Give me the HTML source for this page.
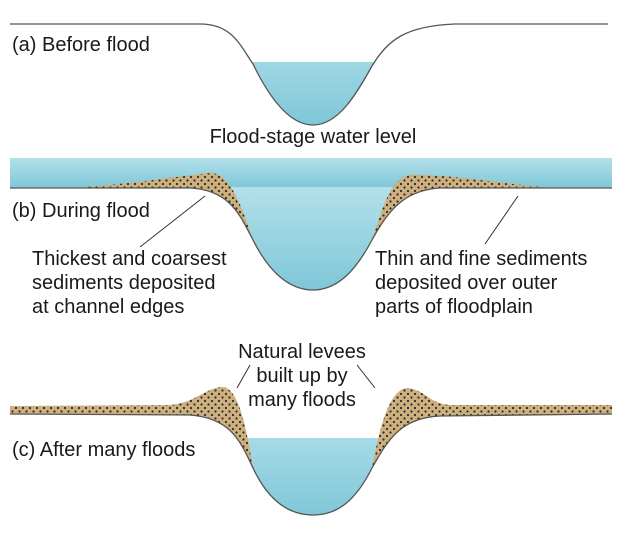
<!DOCTYPE html>
<html><head><style>
html,body{margin:0;padding:0;background:#fff;}
svg{display:block;}
text{font-family:"Liberation Sans",sans-serif;font-size:20px;fill:#1a1a1a;}
</style></head><body>
<svg width="619" height="535" viewBox="0 0 619 535" xmlns="http://www.w3.org/2000/svg">
<defs>
<linearGradient id="w" x1="0" y1="0" x2="0" y2="1"><stop offset="0" stop-color="#b3e0ea"/><stop offset="1" stop-color="#7fc7d8"/></linearGradient>
<pattern id="d" width="7" height="7" patternUnits="userSpaceOnUse"><rect width="7" height="7" fill="#cdb07e"/><circle cx="2" cy="2" r="1.1" fill="#2a2a2a"/><circle cx="5.5" cy="5.5" r="1.1" fill="#2a2a2a"/></pattern>
<clipPath id="ca"><rect x="0" y="62" width="619" height="80"/></clipPath>
<clipPath id="cc"><rect x="0" y="438" width="619" height="90"/></clipPath>
</defs>
<!-- (a) -->
<path d="M200,24 C232,24 240,45 253,64 C268,95 288,125 313,125 C338,125 356,95 372,66 C388,40 405,26 455,24Z" fill="url(#w)" clip-path="url(#ca)"/>
<path d="M10,24 L200,24 C232,24 240,45 253,64 C268,95 288,125 313,125 C338,125 356,95 372,66 C388,40 405,26 455,24 L608,24" fill="none" stroke="#555" stroke-width="1.3"/>
<text x="12" y="51">(a) Before flood</text>
<text x="313" y="143" text-anchor="middle">Flood-stage water level</text>
<!-- (b) -->
<rect x="10" y="158" width="602" height="30" fill="url(#w)"/>
<path d="M190,187 C230,190 240,215 253,240 C268,270 288,290 313,290 C338,290 356,270 372,240 C388,210 405,190 440,187Z" fill="url(#w)"/>
<path d="M85,187 C130,184 180,176 210,173 C228,172 240,200 253,240 C240,215 230,190 190,188 L85,188Z" fill="url(#d)"/>
<path d="M372,240 C385,200 392,178 410,175 C450,174 500,184 545,187 L440,188 C405,190 388,210 372,240Z" fill="url(#d)"/>
<path d="M10,188 L190,188 C230,190 240,215 253,240 C268,270 288,290 313,290 C338,290 356,270 372,240 C388,210 405,190 440,188 L612,188" fill="none" stroke="#555" stroke-width="1.3"/>
<text x="12" y="217">(b) During flood</text>
<line x1="205" y1="196" x2="140" y2="247" stroke="#333" stroke-width="1"/>
<line x1="518" y1="196" x2="485" y2="244" stroke="#333" stroke-width="1"/>
<text x="32" y="265">Thickest and coarsest</text>
<text x="32" y="289">sediments deposited</text>
<text x="32" y="313">at channel edges</text>
<text x="375" y="265">Thin and fine sediments</text>
<text x="375" y="289">deposited over outer</text>
<text x="375" y="313">parts of floodplain</text>
<!-- (c) -->
<text x="302" y="358" text-anchor="middle">Natural levees</text>
<text x="302" y="382" text-anchor="middle">built up by</text>
<text x="302" y="406" text-anchor="middle">many floods</text>
<line x1="250" y1="365" x2="237" y2="388" stroke="#333" stroke-width="1"/>
<line x1="357" y1="365" x2="375" y2="388" stroke="#333" stroke-width="1"/>
<path d="M190,415 C230,418 240,440 253,468 C268,500 288,515 313,515 C338,515 356,500 372,468 C388,440 400,418 440,416Z" fill="url(#w)" clip-path="url(#cc)"/>
<path d="M10,406 L170,405 C195,403 205,388 222,387 C238,387 246,425 253,468 C240,440 230,418 190,415 L10,414Z" fill="url(#d)"/>
<path d="M372,468 C380,425 390,388 408,388 C425,390 430,404 450,405 L612,405 L612,414 L440,416 C400,418 388,440 372,468Z" fill="url(#d)"/>
<path d="M10,414 L190,415 C230,418 240,440 253,468 C268,500 288,515 313,515 C338,515 356,500 372,468 C388,440 400,418 440,416 L612,414" fill="none" stroke="#555" stroke-width="1.3"/>
<text x="12" y="456">(c) After many floods</text>
</svg>
</body></html>
